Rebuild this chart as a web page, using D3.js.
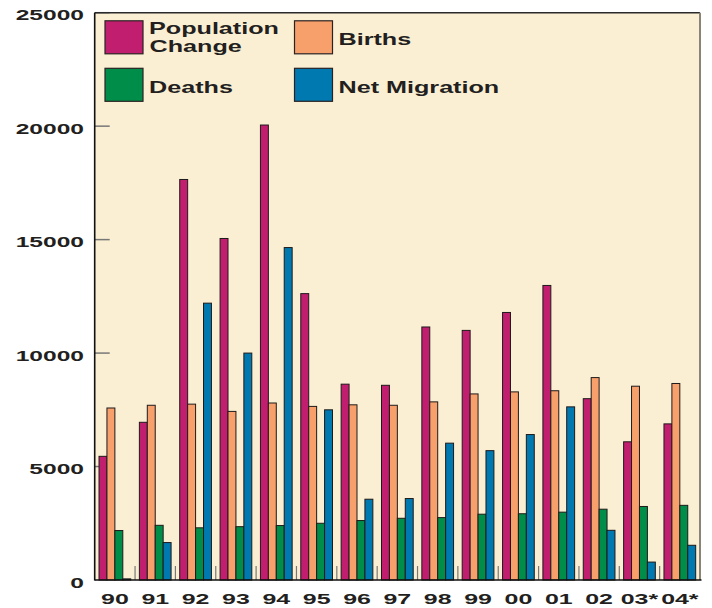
<!DOCTYPE html>
<html>
<head>
<meta charset="utf-8">
<script src="https://cdn.jsdelivr.net/npm/d3@7/dist/d3.min.js"></script>
<style>
  html, body { margin: 0; padding: 0; background: #ffffff; }
  svg { display: block; }
  text { font-family: "Liberation Sans", Arial, sans-serif; font-weight: bold; fill: #231f20; }
</style>
</head>
<body>
<svg id="chart" width="712" height="608"></svg>
<script>
// ---- DATA ----
const categories = ["90","91","92","93","94","95","96","97","98","99","00","01","02","03*","04*"];
const seriesNames = ["Population Change", "Births", "Deaths", "Net Migration"];
const populationChange = [5450, 6950, 17650, 15050, 20050, 12620, 8630, 8580, 11150, 11000, 11790, 12980, 7990, 6090, 6880];
const births           = [7580, 7700, 7750, 7430, 7800, 7650, 7720, 7700, 7850, 8200, 8290, 8340, 8920, 8540, 8660];
const deaths           = [2180, 2410, 2300, 2350, 2400, 2500, 2620, 2720, 2750, 2900, 2920, 2990, 3120, 3240, 3290];
const netMigration     = [50, 1650, 12200, 10000, 14650, 7500, 3560, 3590, 6030, 5700, 6410, 7630, 2190, 790, 1530];
const yTicks = [0, 5000, 10000, 15000, 20000, 25000];

const seriesValues = [populationChange, births, deaths, netMigration];
const colors = ["#c21e70", "#f8a06b", "#008d49", "#0078b0"];

// ---- LAYOUT ----
const svg = d3.select("#chart");
const L = 94.7, R = 700, T = 12.7, B = 580;

const x0 = d3.scaleBand().domain(categories).range([L, R]).paddingInner(0).paddingOuter(0);
const bw = x0.bandwidth();
const x1 = d3.scaleBand().domain(seriesNames).range([bw * 0.107, bw * 0.893]).padding(0);
const y = d3.scaleLinear().domain([0, 25000]).range([B, T]);
const color = d3.scaleOrdinal().domain(seriesNames).range(colors);

// plot background
svg.append("rect").attr("x", L).attr("y", T).attr("width", R - L).attr("height", B - T)
  .attr("fill", "#fbefd3");

// y ticks (inside)
svg.append("g").selectAll("line").data(yTicks.filter(d => d > 0)).join("line")
  .attr("x1", L).attr("x2", L + 15).attr("y1", d => y(d)).attr("y2", d => y(d))
  .attr("stroke", "#777").attr("stroke-width", 1.5);

// group separator ticks at bottom
svg.append("g").selectAll("line").data(categories.slice(1)).join("line")
  .attr("x1", d => x0(d)).attr("x2", d => x0(d)).attr("y1", B - 14).attr("y2", B)
  .attr("stroke", "#777").attr("stroke-width", 1.2);

// bars
const rows = categories.map((c, i) => ({ cat: c, vals: seriesNames.map((s, k) => ({ s, v: seriesValues[k][i] })) }));
const groups = svg.append("g").selectAll("g").data(rows).join("g")
  .attr("transform", d => `translate(${x0(d.cat)},0)`);
groups.selectAll("rect").data(d => d.vals).join("rect")
  .attr("x", d => x1(d.s)).attr("width", x1.bandwidth())
  .attr("y", d => y(d.v)).attr("height", d => y(0) - y(d.v))
  .attr("fill", d => color(d.s))
  .attr("stroke", "#1e1a1a").attr("stroke-width", 1);

// frame
svg.append("line").attr("x1", L).attr("x2", R).attr("y1", T).attr("y2", T)
  .attr("stroke", "#2a2a2a").attr("stroke-width", 1.5);
svg.append("line").attr("x1", R).attr("x2", R).attr("y1", T).attr("y2", B)
  .attr("stroke", "#8a8478").attr("stroke-width", 2);
svg.append("line").attr("x1", L).attr("x2", L).attr("y1", T).attr("y2", B + 0.5)
  .attr("stroke", "#111").attr("stroke-width", 1.6);
svg.append("line").attr("x1", L).attr("x2", R + 1.5).attr("y1", B).attr("y2", B)
  .attr("stroke", "#111").attr("stroke-width", 1.6);

// y tick labels
const labelScale = 1.64;
svg.append("g").selectAll("text").data(yTicks).join("text")
  .attr("transform", d => `translate(84,${y(d) + 7.6}) scale(${labelScale},1)`)
  .attr("text-anchor", "end").attr("font-size", 15)
  .text(d => d);

// x labels
svg.append("g").selectAll("text").data(categories).join("text")
  .attr("transform", d => `translate(${x0(d) + bw / 2},604.3) scale(${labelScale},1)`)
  .attr("text-anchor", "middle").attr("font-size", 15.2)
  .text(d => d);

// legend
const legendSize = 17;
const legendScale = 1.48;
const legCols = [105, 294.5], legRows = [20.8, 68.3];
const leg = svg.append("g").selectAll("g").data(seriesNames).join("g")
  .attr("transform", (d, i) => `translate(${legCols[i % 2]},${legRows[Math.floor(i / 2)]})`);
leg.append("rect").attr("width", 38).attr("height", 33)
  .attr("fill", d => color(d)).attr("stroke", "#2a2222").attr("stroke-width", 1.2);
leg.each(function(d) {
  const g = d3.select(this);
  const words = d === "Population Change" ? ["Population", "Change"] : [d];
  const base = words.length === 2 ? [12.9, 31.6] : [24.6];
  words.forEach((w, j) => {
    g.append("text")
      .attr("transform", `translate(${44 + (j === 1 ? 0.5 : 0)},${base[j]}) scale(${legendScale},1)`)
      .attr("font-size", legendSize)
      .text(w);
  });
});
</script>
</body>
</html>
